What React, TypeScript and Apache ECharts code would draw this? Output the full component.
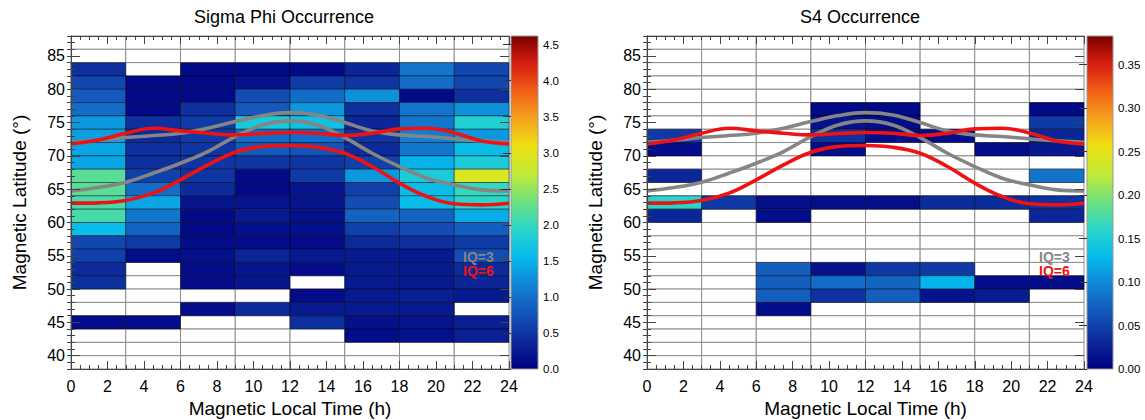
import React, { useEffect, useRef } from 'react';
import * as echarts from 'echarts';

const _ = null;
// bin centres
const MLT_CENTERS = [1.5, 4.5, 7.5, 10.5, 13.5, 16.5, 19.5, 22.5];
const LAT_CENTERS = [87, 85, 83, 81, 79, 77, 75, 73, 71, 69, 67, 65, 63, 61, 59, 57, 55, 53, 51, 49, 47, 45, 43, 41, 39];
const MLT_BIN = 3;
const LAT_BIN = 2;

// Sigma Phi occurrence (rows top -> bottom, columns 0-3h ... 21-24h)
const SIGMA_PHI: (number | null)[][] = [
  [_, _, _, _, _, _, _, _],
  [_, _, _, _, _, _, _, _],
  [0.45, _, 0.1, 0.1, 0.1, 0.37, 1.05, 0.65],
  [0.65, 0.1, 0.1, 0.18, 0.55, 0.5, 0.97, 0.65],
  [0.8, 0.1, 0.1, 0.7, 0.97, 1.25, 0.1, 0.45],
  [0.97, 0.1, 0.45, 0.8, 1.3, 0.45, 1.05, 1.25],
  [1.3, 0.45, 0.55, 1.75, 1.65, 0.37, 1.05, 1.85],
  [1.35, 0.4, 0.55, 0.97, 0.97, 0.5, 1.12, 1.3],
  [1.4, 0.45, 0.5, 0.8, 0.75, 0.4, 1.05, 1.6],
  [1.4, 0.45, 0.5, 0.5, 0.5, 0.6, 1.5, 1.8],
  [2.2, 0.6, 0.5, 0.1, 0.55, 1.3, 1.8, 2.9],
  [2.2, 0.97, 0.4, 0.1, 0.2, 0.6, 1.6, 2.0],
  [2.1, 1.4, 0.2, 0.2, 0.2, 0.7, 1.6, 1.95],
  [2.1, 1.05, 0.1, 0.25, 0.15, 0.9, 0.9, 1.45],
  [1.6, 0.9, 0.1, 0.15, 0.15, 0.6, 0.7, 0.85],
  [0.65, 0.55, 0.12, 0.12, 0.12, 0.4, 0.45, 0.55],
  [0.6, 0.12, 0.15, 0.35, 0.25, 0.25, 0.25, 0.7],
  [0.4, _, 0.12, 0.2, 0.12, 0.25, 0.25, 0.4],
  [0.45, _, 0.12, 0.2, _, 0.25, 0.25, 0.35],
  [_, _, _, _, 0.12, 0.25, 0.3, 0.25],
  [_, _, 0.12, 0.4, 0.25, 0.25, 0.25, _],
  [0.12, 0.12, _, _, 0.45, 0.15, 0.2, 0.3],
  [_, _, _, _, _, 0.12, 0.15, 0.3],
  [_, _, _, _, _, _, _, _],
  [_, _, _, _, _, _, _, _],
];

// S4 occurrence
const S4: (number | null)[][] = [
  [_, _, _, _, _, _, _, _],
  [_, _, _, _, _, _, _, _],
  [_, _, _, _, _, _, _, _],
  [_, _, _, _, _, _, _, _],
  [_, _, _, _, _, _, _, _],
  [_, _, _, 0.008, 0.008, _, _, 0.008],
  [_, _, _, 0.015, 0.01, _, _, 0.045],
  [0.045, _, _, 0.038, 0.01, 0.01, _, 0.03],
  [0.01, _, _, 0.01, _, _, 0.01, 0.02],
  [_, _, _, _, _, _, _, _],
  [0.03, _, _, _, _, _, _, 0.085],
  [_, _, _, _, _, _, _, _],
  [0.16, 0.045, 0.012, 0.012, 0.012, 0.035, 0.035, 0.04],
  [0.03, _, 0.01, _, _, _, _, 0.03],
  [_, _, _, _, _, _, _, _],
  [_, _, _, _, _, _, _, _],
  [_, _, _, _, _, _, _, _],
  [_, _, 0.07, 0.015, 0.045, 0.045, _, _],
  [_, _, 0.07, 0.08, 0.075, 0.125, 0.01, 0.01],
  [_, _, 0.07, 0.04, 0.07, 0.015, 0.022, _],
  [_, _, 0.01, _, _, _, _, _],
  [_, _, _, _, _, _, _, _],
  [_, _, _, _, _, _, _, _],
  [_, _, _, _, _, _, _, _],
  [_, _, _, _, _, _, _, _],
];

// Feldstein oval boundaries
const OVAL_MLT = [0, 1.5, 3, 4.5, 6, 7.5, 9, 10.5, 12, 13.5, 15, 16.5, 18, 19.5, 21, 22.5, 24];
const IQ3_POLE = [72.05, 72.35, 72.75, 73.05, 73.4, 74.15, 75.15, 76.05, 76.5, 76.15, 75.0, 73.75, 73.15, 72.9, 72.55, 72.25, 72.05];
const IQ3_EQ = [64.75, 65.25, 66.05, 67.4, 68.9, 70.65, 72.9, 74.65, 75.25, 74.65, 72.75, 70.4, 68.4, 66.65, 65.65, 64.9, 64.75];
const IQ6_POLE = [71.8, 72.4, 73.4, 74.15, 73.75, 73.4, 73.15, 73.35, 73.5, 73.4, 73.05, 73.4, 74.05, 74.15, 73.45, 72.25, 71.8];
const IQ6_EQ = [62.9, 62.95, 63.3, 64.4, 66.4, 68.65, 70.55, 71.4, 71.55, 71.3, 70.4, 68.4, 65.9, 63.9, 62.8, 62.65, 62.9];

const LAT_TICKS = [40, 45, 50, 55, 60, 65, 70, 75, 80, 85];
const SIGMA_TICKS = [0, 0.5, 1.0, 1.5, 2.0, 2.5, 3.0, 3.5, 4.0, 4.5];
const S4_TICKS = [0, 0.05, 0.1, 0.15, 0.2, 0.25, 0.3, 0.35];
const SIGMA_MAX = 4.62;
const S4_MAX = 0.383;

const PALETTE = [
  '#000082', '#0c2898', '#1455b9', '#1282d4', '#05b9ee', '#28d4cd', '#6ee182',
  '#beeb37', '#eee114', '#f5a51e', '#f25f16', '#d71e0f', '#7d0000',
];

const FONT = "'Liberation Sans', Arial, Helvetica, sans-serif";
const TOP = 36;
const HEIGHT = 333;

const ALL_CELLS = LAT_CENTERS.flatMap((lat) => MLT_CENTERS.map((m) => [m, lat]));

function cellsFrom(matrix: (number | null)[][]) {
  const out: number[][] = [];
  matrix.forEach((row, i) =>
    row.forEach((v, j) => {
      if (v != null) out.push([MLT_CENTERS[j], LAT_CENTERS[i], v]);
    })
  );
  return out;
}

function cellRect(api: any) {
  const m = api.value(0);
  const l = api.value(1);
  const a = api.coord([m - MLT_BIN / 2, l + LAT_BIN / 2]);
  const b = api.coord([m + MLT_BIN / 2, l - LAT_BIN / 2]);
  return { x: a[0], y: a[1], width: b[0] - a[0], height: b[1] - a[1] };
}

const pairs = (ys: number[]) => OVAL_MLT.map((x, i) => [x, ys[i]]);

interface PanelCfg {
  left: number;
  width: number;
  cbLeft: number;
  cbWidth: number;
  title: string;
  titleX: number;
  matrix: (number | null)[][];
  max: number;
  cbTicks: number[];
  digits: number;
}

function buildOption(panels: PanelCfg[]) {
  const grid: any[] = [];
  const xAxis: any[] = [];
  const yAxis: any[] = [];
  const series: any[] = [];
  const visualMap: any[] = [];
  const graphic: any[] = [];
  const axisColor = '#444';

  panels.forEach((cfg) => {
    const g0 = grid.length;
    for (let k = 0; k < 3; k++)
      grid.push({ left: cfg.left, top: TOP, width: cfg.width, height: HEIGHT, outerBoundsMode: 'none' });
    grid.push({ left: cfg.cbLeft, top: TOP, width: cfg.cbWidth, height: HEIGHT, outerBoundsMode: 'none' });

    const xb = xAxis.length;
    const xCommon = {
      type: 'value', min: 0, max: 24, interval: 2, z: 5,
      splitLine: { show: false },
      axisLine: { show: true, lineStyle: { color: axisColor, width: 1 } },
      axisTick: { show: true, inside: true, length: 8, lineStyle: { color: axisColor } },
      minorTick: { show: true, splitNumber: 4, length: 4, lineStyle: { color: axisColor } },
    };
    xAxis.push({
      ...xCommon, gridIndex: g0, position: 'bottom',
      axisLabel: { fontSize: 16, color: '#000', fontFamily: FONT, margin: 9 },
      name: 'Magnetic Local Time (h)', nameLocation: 'middle', nameGap: 27,
      nameTextStyle: { fontSize: 19, color: '#000', fontFamily: FONT },
    });
    xAxis.push({ ...xCommon, gridIndex: g0 + 1, position: 'top', axisLabel: { show: false } });
    xAxis.push({ type: 'value', min: 0, max: 24, gridIndex: g0 + 2, show: false });
    xAxis.push({ type: 'value', min: 0, max: 1, gridIndex: g0 + 3, show: false });

    const yb = yAxis.length;
    yAxis.push({
      type: 'value', gridIndex: g0, position: 'left', min: 38, max: 88, z: 5,
      splitLine: { show: false },
      axisLine: { show: true, lineStyle: { color: axisColor, width: 1 } },
      axisTick: { show: true, inside: true, length: 9, customValues: LAT_TICKS, lineStyle: { color: axisColor } },
      axisLabel: { customValues: LAT_TICKS, fontSize: 16, color: '#000', fontFamily: FONT, margin: 6, padding: [6, 0, 0, 0] },
      name: 'Magnetic Latitude (°)', nameLocation: 'middle', nameGap: 42,
      nameTextStyle: { fontSize: 19, color: '#000', fontFamily: FONT },
    });
    yAxis.push({
      type: 'value', gridIndex: g0 + 1, position: 'right', min: 38, max: 88, interval: 1, z: 5,
      splitLine: { show: false },
      axisLine: { show: true, lineStyle: { color: axisColor, width: 1 } },
      axisTick: { show: true, inside: true, length: 4, lineStyle: { color: axisColor } },
      axisLabel: { show: false },
    });
    yAxis.push({
      type: 'value', gridIndex: g0 + 2, position: 'left', min: 38, max: 88, interval: 1, z: 5,
      splitLine: { show: false }, axisLine: { show: false },
      axisTick: { show: true, inside: true, length: 4, lineStyle: { color: axisColor } },
      axisLabel: { show: false },
    });
    yAxis.push({
      type: 'value', gridIndex: g0 + 2, position: 'right', min: 38, max: 88, z: 5,
      splitLine: { show: false }, axisLine: { show: false },
      axisTick: { show: true, inside: true, length: 9, customValues: LAT_TICKS, lineStyle: { color: axisColor } },
      axisLabel: { show: false },
    });
    yAxis.push({
      type: 'value', gridIndex: g0 + 3, position: 'right', min: 0, max: cfg.max, z: 5,
      splitLine: { show: false }, axisLine: { show: false },
      axisTick: { show: true, inside: true, length: 8, customValues: cfg.cbTicks, lineStyle: { color: '#333' } },
      axisLabel: {
        customValues: cfg.cbTicks, fontSize: 11.5, color: '#000', fontFamily: FONT, margin: 5,
        formatter: (v: number) => v.toFixed(cfg.digits),
      },
    });

    // empty-cell grid
    series.push({
      type: 'custom', xAxisIndex: xb, yAxisIndex: yb, silent: true, z: 1,
      data: ALL_CELLS, encode: { x: 0, y: 1 },
      renderItem: (_p: any, api: any) => ({
        type: 'rect', shape: cellRect(api),
        style: { fill: '#ffffff', stroke: '#8c8c8c', lineWidth: 1 },
      }),
    });
    // filled cells
    const dataIdx = series.length;
    series.push({
      type: 'custom', xAxisIndex: xb, yAxisIndex: yb, silent: true, z: 2,
      data: cellsFrom(cfg.matrix), encode: { x: 0, y: 1 },
      dimensions: ['mlt', 'lat', 'value'],
      renderItem: (_p: any, api: any) => ({
        type: 'rect', shape: cellRect(api),
        style: { fill: api.visual('color'), stroke: 'rgba(0,0,0,0.4)', lineWidth: 1 },
      }),
    });
    visualMap.push({
      type: 'continuous', show: false, seriesIndex: dataIdx, dimension: 2,
      min: 0, max: cfg.max, inRange: { color: PALETTE },
    });
    // oval lines
    const line = (ys: number[], color: string) => ({
      type: 'line', xAxisIndex: xb, yAxisIndex: yb, data: pairs(ys), smooth: 0.4,
      symbol: 'none', z: 3, silent: true,
      lineStyle: { color, width: 3.6 },
    });
    series.push(line(IQ3_POLE, '#858585'));
    series.push(line(IQ3_EQ, '#858585'));
    series.push(line(IQ6_POLE, '#f01212'));
    series.push(line(IQ6_EQ, '#f01212'));
    // colour bar
    series.push({
      type: 'custom', xAxisIndex: xb + 3, yAxisIndex: yb + 4, silent: true, z: 2,
      data: [[0, cfg.max]], encode: { x: 0, y: 1 },
      renderItem: (_p: any, api: any) => {
        const lo = api.coord([0, 0]);
        const hi = api.coord([1, api.value(1)]);
        return {
          type: 'rect',
          shape: { x: lo[0], y: hi[1], width: hi[0] - lo[0], height: lo[1] - hi[1] },
          style: {
            fill: new echarts.graphic.LinearGradient(0, 1, 0, 0,
              PALETTE.map((c, i) => ({ offset: i / (PALETTE.length - 1), color: c }))),
            stroke: '#999', lineWidth: 1,
          },
        };
      },
    });

    graphic.push({
      type: 'text', x: cfg.titleX, y: 17, silent: true,
      style: { text: cfg.title, font: `18px ${FONT}`, fill: '#000', align: 'center', verticalAlign: 'middle' },
    });
    graphic.push({
      type: 'text', x: cfg.left + 392, y: 257, silent: true, z: 10,
      style: { text: 'IQ=3', font: `bold 14px ${FONT}`, fill: '#858585', align: 'left', verticalAlign: 'middle', lineHeight: 13 },
    });
    graphic.push({
      type: 'text', x: cfg.left + 392, y: 271, silent: true, z: 10,
      style: { text: 'IQ=6', font: `bold 14px ${FONT}`, fill: '#f01212', align: 'left', verticalAlign: 'middle', lineHeight: 13 },
    });
  });

  return {
    animation: false,
    backgroundColor: '#ffffff',
    textStyle: { fontFamily: FONT },
    grid, xAxis, yAxis, series, visualMap, graphic,
  };
}

export default function App() {
  const ref = useRef<HTMLDivElement>(null);
  useEffect(() => {
    if (!ref.current) return;
    const chart = echarts.init(ref.current, undefined, { renderer: 'svg' });
    chart.setOption(
      buildOption([
        {
          left: 71, width: 438, cbLeft: 511, cbWidth: 27, title: 'Sigma Phi Occurrence', titleX: 284,
          matrix: SIGMA_PHI, max: SIGMA_MAX, cbTicks: SIGMA_TICKS, digits: 1,
        },
        {
          left: 647, width: 437, cbLeft: 1087, cbWidth: 26, title: 'S4 Occurrence', titleX: 860,
          matrix: S4, max: S4_MAX, cbTicks: S4_TICKS, digits: 2,
        },
      ]) as any
    );
    return () => chart.dispose();
  }, []);
  return (
    <div
      ref={ref}
      style={{ position: 'fixed', left: 0, top: 0, width: 1145, height: 420, background: '#fff' }}
    />
  );
}
